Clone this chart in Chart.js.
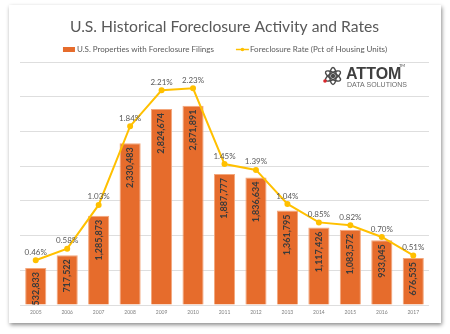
<!DOCTYPE html>
<html>
<head>
<meta charset="utf-8">
<script src="https://cdn.jsdelivr.net/npm/chart.js@4.4.1/dist/chart.umd.min.js"></script>
<style>
    html, body { margin: 0; padding: 0; background: #ffffff; }
    .frame {
        position: absolute;
        left: 9px; top: 5px;
        width: 432px; height: 318px;
        background: #ffffff;
        box-shadow: 1px 2px 4px rgba(0, 0, 0, 0.45);
    }
    #foreclosureChart { display: block; }
</style>
</head>
<body>
<div class="frame">
    <canvas id="foreclosureChart" width="432" height="318"></canvas>
</div>
<script>
/* U.S. foreclosure filings (bars) and foreclosure rate (line) */

const years = ['2005', '2006', '2007', '2008', '2009', '2010', '2011',
               '2012', '2013', '2014', '2015', '2016', '2017'];
const filings = [532833, 717522, 1285873, 2330483, 2824674, 2871891, 1887777,
                 1836634, 1361795, 1117426, 1083572, 933045, 676535];
const rates = [0.46, 0.58, 1.03, 1.84, 2.21, 2.23, 1.45,
               1.39, 1.04, 0.85, 0.82, 0.70, 0.51];

const FONT = 'Lato, "Open Sans", sans-serif';
const BAR_COLOR = '#E66C2C';
const LINE_COLOR = '#FFC000';

// value labels: rotated counts inside the bars, percentages above the points
const valueLabels = {
    id: 'valueLabels',
    afterDatasetsDraw(chart) {
        const ctx = chart.ctx;
        const bars = chart.getDatasetMeta(0).data;
        const points = chart.getDatasetMeta(1).data;

        ctx.save();
        ctx.font = 'bold 9px ' + FONT;
        ctx.fillStyle = '#3b3b3b';
        ctx.textAlign = 'right';
        ctx.textBaseline = 'middle';
        bars.forEach(function (bar, i) {
            ctx.save();
            ctx.translate(bar.x, bar.y + 4);
            ctx.rotate(-Math.PI / 2);
            ctx.fillText(filings[i].toLocaleString('en-US'), 0, 0);
            ctx.restore();
        });

        ctx.font = '8px ' + FONT;
        ctx.fillStyle = '#595959';
        ctx.textAlign = 'center';
        points.forEach(function (pt, i) {
            ctx.fillText(rates[i].toFixed(2) + '%', pt.x, pt.y - 8);
        });
        ctx.restore();
    },
};

// legend row under the title: orange swatch, then line with marker
const legendRow = {
    id: 'legendRow',
    afterDraw(chart) {
        const ctx = chart.ctx;
        const bar = chart.data.datasets[0];
        const line = chart.data.datasets[1];
        const y = 44.5;
        ctx.save();
        ctx.font = '8px ' + FONT;
        ctx.textBaseline = 'middle';
        ctx.textAlign = 'left';
        const w1 = ctx.measureText(bar.label).width;
        const w2 = ctx.measureText(line.label).width;
        const total = 12 + 2 + w1 + 22 + 13 + 1 + w2;
        let x = (chart.width - total) / 2;

        ctx.fillStyle = bar.backgroundColor;
        ctx.fillRect(x, y - 2.5, 12, 5);
        x += 14;
        ctx.fillStyle = '#595959';
        ctx.fillText(bar.label, x, y);
        x += w1 + 22;

        ctx.strokeStyle = line.borderColor;
        ctx.lineWidth = 1.5;
        ctx.beginPath();
        ctx.moveTo(x, y);
        ctx.lineTo(x + 13, y);
        ctx.stroke();
        ctx.fillStyle = line.borderColor;
        ctx.beginPath();
        ctx.arc(x + 6.5, y, 1.8, 0, Math.PI * 2);
        ctx.fill();
        x += 14;
        ctx.fillStyle = '#595959';
        ctx.fillText(line.label, x, y);
        ctx.restore();
    },
};

// company mark in the upper right
const logo = {
    id: 'logo',
    afterDraw(chart) {
        const ctx = chart.ctx;
        const cx = 324, cy = 71;
        ctx.save();
        ctx.strokeStyle = '#4a4a4a';
        ctx.lineWidth = 1.4;
        for (let k = 0; k < 3; k++) {
            ctx.beginPath();
            ctx.ellipse(cx, cy, 8.5, 3.2, k * Math.PI / 3 + Math.PI / 2, 0, Math.PI * 2);
            ctx.stroke();
        }
        ctx.fillStyle = '#4a4a4a';
        ctx.beginPath();
        ctx.arc(cx, cy, 2.2, 0, Math.PI * 2);
        ctx.fill();
        ctx.fillStyle = '#d9262b';
        ctx.beginPath();
        ctx.arc(cx - 8, cy + 5, 1.8, 0, Math.PI * 2);
        ctx.fill();

        ctx.fillStyle = '#3f3f3f';
        ctx.font = 'bold 16px "Liberation Sans", Arial, sans-serif';
        ctx.textAlign = 'left';
        ctx.textBaseline = 'alphabetic';
        ctx.fillText('ATTOM', 337, 74);
        ctx.font = '4px ' + FONT;
        ctx.fillText('TM', 390, 62);
        ctx.fillStyle = '#6b6b6b';
        ctx.font = '7px "Liberation Sans Narrow", "Liberation Sans", sans-serif';
        ctx.fillText('DATA SOLUTIONS', 338, 82);
        ctx.restore();
    },
};

new Chart(document.getElementById('foreclosureChart'), {
    data: {
        labels: years,
        datasets: [{
            type: 'bar',
            label: 'U.S. Properties with Foreclosure Filings',
            data: filings,
            backgroundColor: BAR_COLOR,
            borderColor: '#F3A77C',
            borderWidth: 1,
            categoryPercentage: 0.8,
            barPercentage: 0.84,
            yAxisID: 'y',
            order: 1,
        }, {
            type: 'line',
            label: 'Foreclosure Rate (Pct of Housing Units)',
            data: rates,
            borderColor: LINE_COLOR,
            backgroundColor: LINE_COLOR,
            borderWidth: 2,
            pointRadius: 2,
            pointStyle: 'circle',
            tension: 0,
            yAxisID: 'y1',
            order: 0,
        }],
    },
    options: {
        responsive: false,
        animation: false,
        layout: { padding: { left: 11, right: 12, top: 0, bottom: 4 } },
        plugins: {
            title: {
                display: true,
                text: 'U.S. Historical Foreclosure Activity and Rates',
                color: '#595959',
                font: { family: FONT, size: 15.7, weight: 'normal' },
                padding: { top: 12.6, bottom: 25.6 },
            },
            legend: { display: false },
            tooltip: { enabled: false },
        },
        scales: {
            x: {
                grid: { display: false, drawTicks: false },
                border: { display: false },
                ticks: { color: '#7f7f7f', font: { family: FONT, size: 5 }, padding: 4 },
            },
            y: {
                position: 'left',
                min: 0,
                max: 3500000,
                ticks: { display: false, stepSize: 500000 },
                grid: { color: '#dedede', drawTicks: false },
                border: { display: false },
            },
            y1: {
                position: 'right',
                display: false,
                min: 0,
                max: 2.5,
            },
        },
    },
    plugins: [valueLabels, legendRow, logo],
});
</script>
</body>
</html>
